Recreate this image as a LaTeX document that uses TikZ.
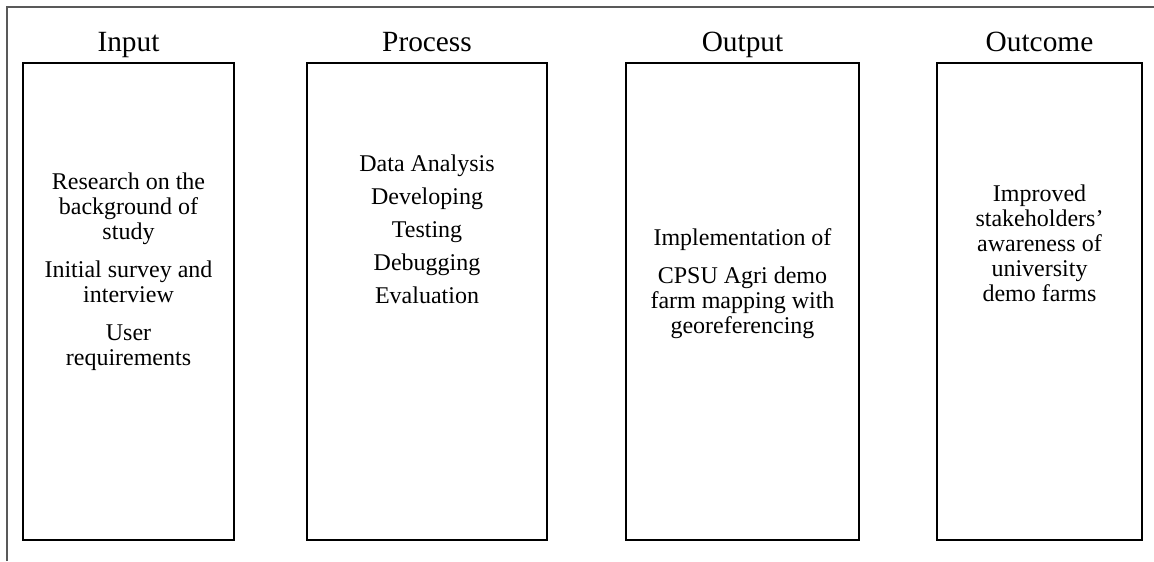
\documentclass[tikz,border=0pt]{standalone}
\usepackage{fontspec}
\setmainfont{Liberation Serif}
\begin{document}
\begin{tikzpicture}[x=0.75pt,y=-0.75pt,
  colbox/.style={draw=black,line width=2pt,inner sep=0pt,minimum height=357.75pt},
  coltitle/.style={anchor=base,font=\fontsize{22}{26}\selectfont,inner sep=0pt},
  coltext/.style={align=center,font=\fontsize{18}{18.75}\selectfont,inner sep=0pt},
  frame/.style={draw=black!65,line width=1.1pt}]
\useasboundingbox (0,0) rectangle (1154,561);
\coordinate (fbl) at (7,561);
\coordinate (ftl) at (7,7);
\coordinate (ftr) at (1154,7);
\draw[frame] (fbl) -- (ftl) -- (ftr);
% boxes
\node[colbox,minimum width=158.25pt] (b1) at (128.5,301.5) {};
\node[colbox,minimum width=180pt] (b2) at (427,301.5) {};
\node[colbox,minimum width=174.75pt] (b3) at (742.5,301.5) {};
\node[colbox,minimum width=153.75pt] (b4) at (1039.5,301.5) {};
% titles
\node[coltitle] (t1) at (128.5,51) {Input};
\node[coltitle] (t2) at (427,51) {Process};
\node[coltitle] (t3) at (742.5,51) {Output};
\node[coltitle] (t4) at (1039.5,51) {Outcome};
% contents
\node[coltext] (c1) at (128.5,271.5) {Research on the\\background of\\study\\[9.75pt]Initial survey and\\interview\\[9.75pt]User\\requirements};
\node[coltext] (c2) at (427,229) {Data Analysis\\[6pt]Developing\\[6pt]Testing\\[6pt]Debugging\\[6pt]Evaluation};
\node[coltext] (c3) at (742.5,284) {Implementation of\\[9.75pt]CPSU Agri demo\\farm mapping with\\georeferencing};
\node[coltext] (c4) at (1039.5,243) {Improved\\stakeholders’\\awareness of\\university\\demo farms};
\end{tikzpicture}
\end{document}
